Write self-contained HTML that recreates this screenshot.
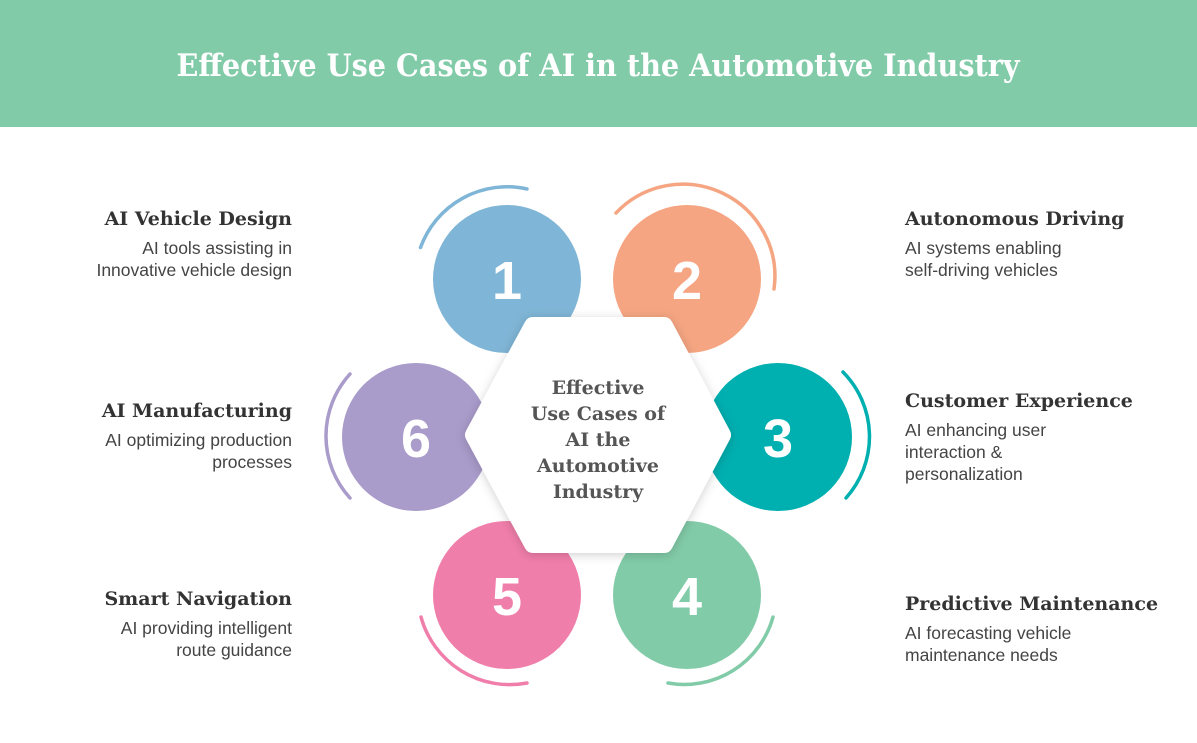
<!DOCTYPE html>
<html><head><meta charset="utf-8"><style>
html,body{margin:0;padding:0;background:#fff;}
svg{display:block;}
.h{font-family:"DejaVu Serif","Liberation Serif",serif;font-weight:bold;fill:#333;font-size:19px;}
.d{font-family:"Liberation Sans","DejaVu Sans",sans-serif;fill:#444;font-size:17.5px;}
.n{font-family:"Liberation Sans","DejaVu Sans",sans-serif;font-weight:bold;fill:#fff;font-size:54px;text-anchor:middle;}
.c{font-family:"DejaVu Serif","Liberation Serif",serif;font-weight:bold;fill:#555;font-size:19px;text-anchor:middle;}
</style></head><body>
<svg width="1197" height="743" viewBox="0 0 1197 743" xmlns="http://www.w3.org/2000/svg">
<defs>
<filter id="sh" x="-20%" y="-20%" width="140%" height="140%"><feDropShadow dx="0" dy="2" stdDeviation="5" flood-color="#000" flood-opacity="0.18"/></filter>
</defs>
<rect x="0" y="0" width="1197" height="127" fill="#82cba8"/>
<text x="598" y="76" text-anchor="middle" font-family="DejaVu Serif, Liberation Serif, serif" font-weight="bold" font-size="31" fill="#fff" textLength="843" lengthAdjust="spacingAndGlyphs">Effective Use Cases of AI in the Automotive Industry</text>

<g fill="none" stroke-width="3.5" stroke-linecap="round">
<path d="M420.5 247.5 A92 92 0 0 1 527 189" stroke="#7fb5d6"/>
<path d="M616 221 A92 92 0 0 1 774 297" stroke="#f5a582" transform="translate(0,-8)"/>
<path d="M843 372 A92 92 0 0 1 846 498" stroke="#00afb0"/>
<path d="M773 617 A92 92 0 0 1 668 683" stroke="#82cba8"/>
<path d="M527 683 A92 92 0 0 1 421 617" stroke="#f07eaa"/>
<path d="M350 498 A92 92 0 0 1 350 374" stroke="#a99bca"/>
</g>

<circle cx="507" cy="279" r="74" fill="#7fb5d6"/>
<circle cx="687" cy="279" r="74" fill="#f5a582"/>
<circle cx="778" cy="437" r="74" fill="#00afb0"/>
<circle cx="687" cy="595" r="74" fill="#82cba8"/>
<circle cx="507" cy="595" r="74" fill="#f07eaa"/>
<circle cx="416" cy="437" r="74" fill="#a99bca"/>

<text class="n" x="507" y="299">1</text>
<text class="n" x="687" y="299">2</text>
<text class="n" x="778" y="457">3</text>
<text class="n" x="687" y="615">4</text>
<text class="n" x="507" y="615">5</text>
<text class="n" x="416" y="457">6</text>

<polygon points="533,326 664,326 722,435 664,544 533,544 474,435" fill="#fff" stroke="#fff" stroke-width="18" stroke-linejoin="round" filter="url(#sh)"/>
<text class="c" x="598" y="394">Effective</text>
<text class="c" x="598" y="420">Use Cases of</text>
<text class="c" x="598" y="446">AI the</text>
<text class="c" x="598" y="472">Automotive</text>
<text class="c" x="598" y="498">Industry</text>

<g text-anchor="end">
<text class="h" x="292" y="225">AI Vehicle Design</text>
<text class="d" x="292" y="254">AI tools assisting in</text>
<text class="d" x="292" y="276">Innovative vehicle design</text>
<text class="h" x="292" y="417">AI Manufacturing</text>
<text class="d" x="292" y="446">AI optimizing production</text>
<text class="d" x="292" y="468">processes</text>
<text class="h" x="292" y="605">Smart Navigation</text>
<text class="d" x="292" y="634">AI providing intelligent</text>
<text class="d" x="292" y="656">route guidance</text>
</g>
<g>
<text class="h" x="905" y="225">Autonomous Driving</text>
<text class="d" x="905" y="254">AI systems enabling</text>
<text class="d" x="905" y="276">self-driving vehicles</text>
<text class="h" x="905" y="407">Customer Experience</text>
<text class="d" x="905" y="436">AI enhancing user</text>
<text class="d" x="905" y="458">interaction &amp;</text>
<text class="d" x="905" y="480">personalization</text>
<text class="h" x="905" y="610">Predictive Maintenance</text>
<text class="d" x="905" y="639">AI forecasting vehicle</text>
<text class="d" x="905" y="661">maintenance needs</text>
</g>
</svg>
</body></html>
